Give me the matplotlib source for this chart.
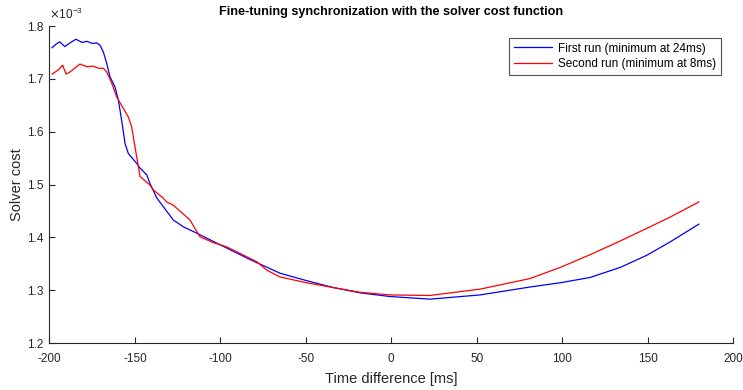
import matplotlib.pyplot as plt
import numpy as np

plt.rcParams['font.family'] = ['Liberation Sans', 'DejaVu Sans']
plt.rcParams['axes.unicode_minus'] = False

# time offsets [ms] and solver cost [x1e-3] for both runs
t_first = [-198.5, -196, -194, -191, -188, -184.5, -181, -178, -175, -172.4, -170.5,
           -168.5, -166.5, -164.6, -161.7, -159.7, -157.8, -155.8, -153.9, -149,
           -147, -143, -141.2, -137.3, -133.4, -127.6, -121.7, -113.9, -100.2,
           -82.7, -65, -49.5, -34, -18.3, -0.8, 22.7, 52, 81.2, 98.8, 116.3,
           133.9, 149.5, 163, 180]
cost_first = [1.759, 1.766, 1.770, 1.761, 1.768, 1.775, 1.769, 1.771, 1.767, 1.768, 1.764,
              1.751, 1.729, 1.704, 1.685, 1.660, 1.622, 1.578, 1.559, 1.540,
              1.531, 1.518, 1.502, 1.475, 1.458, 1.433, 1.420, 1.408, 1.386,
              1.358, 1.332, 1.318, 1.305, 1.295, 1.288, 1.283, 1.291, 1.306, 1.314, 1.324,
              1.343, 1.366, 1.391, 1.425]

t_second = [-198.5, -194.8, -192.3, -190.3, -188, -182.2, -178.2, -174.4, -171.4, -168.5,
            -166.5, -163.6, -160.7, -156.8, -153.9, -151.9, -150, -147, -141.2,
            -139.3, -133.4, -131.4, -127.6, -117.8, -114.9, -111.9, -104.2, -96.3,
            -78.8, -72.9, -65.1, -49.5, -34, -18.3, -0.8, 22.7, 52, 81.2, 98.8,
            116.3, 133.9, 149.5, 163, 180]
cost_second = [1.709, 1.717, 1.726, 1.709, 1.713, 1.728, 1.723, 1.724, 1.720, 1.720,
               1.713, 1.692, 1.666, 1.644, 1.628, 1.609, 1.572, 1.515, 1.499,
               1.490, 1.474, 1.467, 1.461, 1.433, 1.417, 1.401, 1.390, 1.382,
               1.354, 1.338, 1.325, 1.314, 1.305, 1.296, 1.291, 1.290, 1.302, 1.322, 1.343,
               1.367, 1.393, 1.417, 1.438, 1.467]

labels = ['First run (minimum at 24ms)', 'Second run (minimum at 8ms)']

axis_col = '#262626'

fig = plt.figure(figsize=(7.43, 3.90), dpi=100)
ax = fig.add_axes([0.0666, 0.1205, 0.92, 0.8128])

ax.plot(t_first, cost_first, color='#0000ff', lw=0.9, label=labels[0])
ax.plot(t_second, cost_second, color='#ff0000', lw=0.9, label=labels[1])

ax.set_xlim(-200, 200)
ax.set_ylim(1.2, 1.8)
ax.set_xticks(np.arange(-200, 201, 50))
ax.set_yticks(np.arange(1.2, 1.81, 0.1))
ax.set_yticklabels(['%.1f' % v for v in np.arange(1.2, 1.81, 0.1)])

for s in ['top', 'right']:
    ax.spines[s].set_visible(False)
for s in ['left', 'bottom']:
    ax.spines[s].set_color(axis_col)
    ax.spines[s].set_linewidth(0.8)
ax.tick_params(direction='in', length=4, width=0.8, colors=axis_col, labelsize=8.5)
ax.tick_params(axis='x', pad=7)
ax.tick_params(axis='y', pad=4.5)

ax.text(0.0, 1.012, r'$\times\mathregular{10^{-3}}$', transform=ax.transAxes,
        fontsize=8.5, color=axis_col, ha='left', va='bottom')

ax.set_title('Fine-tuning synchronization with the solver cost function',
             fontsize=9.1, fontweight='bold', pad=8)
ax.set_xlabel('Time difference [ms]', fontsize=10.5, color=axis_col, labelpad=5)
ax.set_ylabel('Solver cost', fontsize=10.5, color=axis_col, labelpad=2)

leg = ax.legend(loc='upper right', fontsize=8.5, frameon=True, fancybox=False,
                edgecolor=axis_col, handlelength=3.3, handletextpad=0.5,
                borderaxespad=1.0, borderpad=0.4, labelspacing=0.3)
leg.get_frame().set_linewidth(0.8)

fig.savefig('out.png', dpi=100)
